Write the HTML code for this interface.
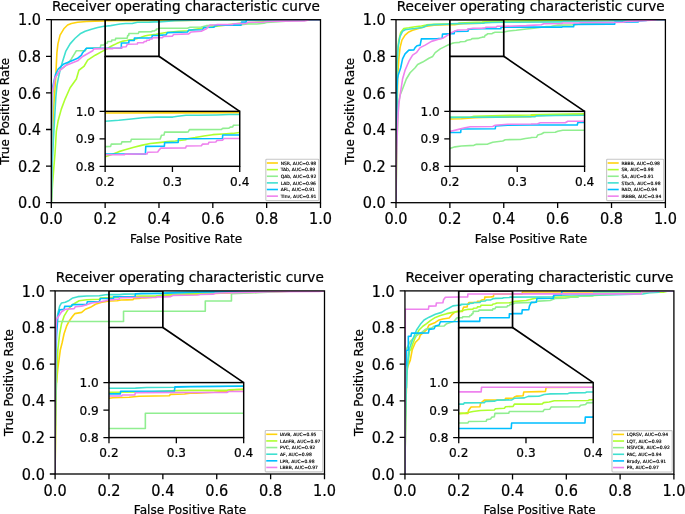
<!DOCTYPE html>
<html lang="en">
<head>
<meta charset="utf-8">
<title>Receiver operating characteristic curve</title>
<style>
html,body{margin:0;padding:0;background:#fff;}
body{width:685px;height:514px;overflow:hidden;}
svg{display:block;}
svg text{font-family:"DejaVu Sans", "Liberation Sans", sans-serif;fill:#000;stroke:#000;stroke-width:0.22px;}
svg text.lg{stroke-width:0.15px;}
</style>
</head>
<body>
<svg width="685" height="514" viewBox="0 0 685 514">
<rect width="685" height="514" fill="#fff"/>
<g id="pTL">
<clipPath id="cTL"><rect x="51.3" y="19.7" width="269.2" height="183"/></clipPath>
<clipPath id="dTL"><rect x="105.14" y="111.35" width="134.6" height="54.95"/></clipPath>
<g clip-path="url(#cTL)" fill="none" stroke-width="1.6" stroke-linejoin="round" stroke-linecap="square">
<polyline stroke="#FFD30D" points="51.3,202.7 52.11,156.95 53.45,111.2 55.67,79.03 56.3,65.22 56.92,52.66 57.93,43.88 60.06,35.09 63.83,28.81 67.59,25.04 71.36,23.54 77.63,22.28 86.42,21.53 95.2,21.15 103.99,20.9 105.14,20.76 132.06,20.71 158.98,20.61 185.9,20.43 212.82,20.07 239.74,19.7 320.5,19.7"/>
<polyline stroke="#ADFF2F" points="51.3,202.7 51.53,200.75 52.53,184.43 53.79,168.11 55.04,153.04 55.67,143 56.3,131.73 58.18,120.43 61.32,109.13 65.08,99.09 70.1,87.79 76.38,79 78.89,70.24 83.91,66.47 87.67,60.2 95.2,55.18 102.73,51.16 105.19,49.88 108.1,48.21 110.61,46.54 113.12,45.28 116.63,43.61 119.64,42.35 123.16,41.09 126.67,40.51 130.18,39.84 133.2,39.42 137.46,38.58 137.46,38.58 137.46,38.58 137.46,38.17 141.12,37.16 144.64,36.07 148.15,35.24 152.17,34.82 156.18,34.4 158.79,33.81 166.11,32.58 178.66,31.32 188.7,30.69 193.72,29.44 206.27,27.55 216.94,26.3 216.94,26.3 216.94,26.1 239.74,23.36 266.66,21.53 293.58,20.25 320.5,19.7"/>
<polyline stroke="#90EE90" points="51.3,202.7 51.84,129.5 52.92,92.9 55.04,77.77 60.06,70.24 66.34,65.22 71.36,58.94 76.38,50.78 85.16,50.78 86.42,48.27 100.22,47.89 100.85,45.13 103.99,44.88 105.19,43.19 107.34,43.02 107.59,41.51 111.61,41.35 111.86,40.01 115.38,39.84 115.63,38.33 127.17,38.17 127.67,35.65 128.68,35.49 128.93,33.56 137.46,33.56 137.46,33.56 138.36,33.39 138.86,31.89 151.67,31.72 152.17,31.05 154.68,30.88 155.18,30.21 156.18,30.05 156.44,28.96 158.79,28.79 159.21,28.18 187.45,28.18 189.96,27.3 201.25,26.93 206.27,25.67 216.94,25.29 218.62,25.29 228.9,25.29 237.3,25.08 247.58,23.96 256.92,23.96 263.92,23.21 266.66,22.44 293.58,20.61 320.5,19.7"/>
<polyline stroke="#40E0D0" points="51.3,202.7 52.11,166.1 53.45,138.65 54.8,114.86 55.88,96.56 56.95,85.58 58.18,79.03 60.06,70.24 62.57,61.45 65.71,51.41 70.1,43.88 75.12,38.23 80.14,33.83 85.16,31.32 91.44,29.19 97.71,27.55 103.99,26.3 105.19,26.3 110.61,25.61 115.63,24.77 120.14,23.94 125.67,23.52 132.19,23.52 134.2,22.93 137.46,22.26 137.46,22.26 137.46,22.26 137.46,22.26 142.13,22.26 149.66,22.1 154.68,21.84 158.79,21.84 174.9,20.65 193.72,20.27 216.94,20.02 239.74,20.02 266.66,19.7 320.5,19.7"/>
<polyline stroke="#00BFFF" points="51.3,202.7 51.57,111.2 52.11,89.24 55.67,74.01 58.18,68.99 63.83,63.96 70.1,61.45 77.63,58.31 81.4,55.18 82.65,52.66 86.42,48.27 103.99,48.27 105.19,48.21 121.25,48.21 121.4,43.02 128.83,42.85 128.93,40.51 134.35,40.34 134.45,38 137.46,38 137.46,38 137.46,38 137.46,38 137.46,38 152.07,37.83 152.17,35.49 158.79,35.4 166.11,34.84 167.37,32.58 187.45,31.95 188.7,30.07 202.51,29.81 203.76,27.55 213.8,27.3 215.06,25.67 216.94,25.67 216.94,25.67 216.94,25.67 216.94,25.08 241.04,25.08 241.51,22.09 246.18,22.09 246.18,21.53 246.18,21.53 246.18,19.7 320.5,19.7"/>
<polyline stroke="#EE82EE" points="51.3,202.7 51.57,111.2 52.11,92.9 55.04,77.77 60.06,70.24 66.34,65.22 77.63,60.82 82.65,56.43 92.69,50.78 93.95,48.9 103.99,48.65 105.19,48.65 112.87,48.65 113.12,48.21 121.9,48.04 122.15,46.95 126.17,46.79 126.67,45.53 127.42,44.19 137.21,44.02 137.21,44.02 137.36,44.02 137.61,42.77 143.63,42.6 144.14,41.51 146.39,41.35 146.65,40.26 149.41,40.09 149.91,39 152.17,38.83 152.67,37.75 158.79,37.75 162.35,37.6 163.6,36.34 172.39,36.09 173.64,34.46 188.7,33.83 191.21,31.95 201.25,31.32 206.27,28.81 210.04,25.04 216.94,24.79 216.94,24.79 216.94,24.61 232.63,24.43 233.57,23.68 246.64,23.4 247.58,22.28 263.92,22.09 266.66,21.53 280.12,21.16 304.35,20.98 309.73,19.7 320.5,19.7"/>
</g>
<rect x="51.3" y="19.7" width="269.2" height="183" fill="none" stroke="#000" stroke-width="1.3"/>
<path d="M51.3,202.7v5.3M51.3,202.7h-5.3M105.14,202.7v5.3M51.3,166.1h-5.3M158.98,202.7v5.3M51.3,129.5h-5.3M212.82,202.7v5.3M51.3,92.9h-5.3M266.66,202.7v5.3M51.3,56.3h-5.3M320.5,202.7v5.3M51.3,19.7h-5.3" stroke="#000" stroke-width="1.3" fill="none"/>
<text transform="translate(51.3,224.2) scale(1.0,1.06)" font-size="14.5" text-anchor="middle">0.0</text>
<text transform="translate(105.14,224.2) scale(1.0,1.06)" font-size="14.5" text-anchor="middle">0.2</text>
<text transform="translate(158.98,224.2) scale(1.0,1.06)" font-size="14.5" text-anchor="middle">0.4</text>
<text transform="translate(212.82,224.2) scale(1.0,1.06)" font-size="14.5" text-anchor="middle">0.6</text>
<text transform="translate(266.66,224.2) scale(1.0,1.06)" font-size="14.5" text-anchor="middle">0.8</text>
<text transform="translate(320.5,224.2) scale(1.0,1.06)" font-size="14.5" text-anchor="middle">1.0</text>
<text transform="translate(41.1,208.3) scale(1.0,1.05)" font-size="14.5" text-anchor="end">0.0</text>
<text transform="translate(41.1,171.7) scale(1.0,1.05)" font-size="14.5" text-anchor="end">0.2</text>
<text transform="translate(41.1,135.1) scale(1.0,1.05)" font-size="14.5" text-anchor="end">0.4</text>
<text transform="translate(41.1,98.5) scale(1.0,1.05)" font-size="14.5" text-anchor="end">0.6</text>
<text transform="translate(41.1,61.9) scale(1.0,1.05)" font-size="14.5" text-anchor="end">0.8</text>
<text transform="translate(41.1,25.3) scale(1.0,1.05)" font-size="14.5" text-anchor="end">1.0</text>
<text x="185.9" y="10.5" font-size="13.6" text-anchor="middle">Receiver operating characteristic curve</text>
<text x="186.1" y="242.5" font-size="12.1" text-anchor="middle">False Positive Rate</text>
<text transform="translate(8.8,111.2) rotate(-90)" font-size="12.0" text-anchor="middle">True Positive Rate</text>
<path clip-path="url(#cTL)" d="M105.14,19.7H158.98V56.3H105.14Z" fill="none" stroke="#000" stroke-width="1.7"/>
<path d="M105.14,56.3L105.14,111.35M158.98,56.3L239.74,111.35" fill="none" stroke="#000" stroke-width="1.7"/>
<rect x="105.14" y="111.35" width="134.6" height="54.95" fill="#fff"/>
<g clip-path="url(#dTL)" fill="none" stroke-width="1.6" stroke-linejoin="round" stroke-linecap="square">
<polyline stroke="#FFD30D" points="-29.46,386.1 -27.44,317.41 -24.08,248.72 -18.54,200.42 -16.97,179.69 -15.4,160.84 -12.89,147.65 -7.55,134.45 1.86,125.03 11.27,119.37 20.68,117.11 36.37,115.23 58.33,114.1 80.3,113.53 102.26,113.15 105.14,112.94 172.44,112.86 239.74,112.72 307.04,112.45 374.34,111.9 441.64,111.35 643.54,111.35"/>
<polyline stroke="#ADFF2F" points="-29.46,386.1 -28.89,383.18 -26.38,358.67 -23.24,334.17 -20.1,311.55 -18.54,296.47 -16.97,279.55 -12.26,262.58 -4.42,245.62 5,230.54 17.55,213.58 33.23,200.38 39.51,187.23 52.06,181.58 61.47,172.15 80.3,164.61 99.12,158.58 105.25,156.67 112.53,154.15 118.81,151.64 125.08,149.75 133.87,147.24 141.4,145.36 150.18,143.47 158.97,142.59 167.75,141.59 175.28,140.96 185.95,139.7 185.95,139.7 185.95,139.7 185.95,139.07 195.1,137.57 203.88,135.93 212.67,134.67 222.71,134.05 232.75,133.42 239.28,132.54 257.57,130.68 288.94,128.8 314.04,127.86 326.59,125.97 357.97,123.14 384.64,121.26 384.64,121.26 384.64,120.97 441.64,116.85 508.94,114.1 576.24,112.17 643.54,111.35"/>
<polyline stroke="#90EE90" points="-29.46,386.1 -28.11,276.2 -25.42,221.25 -20.1,198.54 -7.55,187.23 8.13,179.69 20.68,170.27 33.23,158.01 55.2,158.01 58.33,154.24 92.85,153.68 94.42,149.53 102.26,149.15 105.25,146.61 110.65,146.36 111.28,144.1 121.32,143.85 121.94,141.84 130.73,141.59 131.36,139.32 160.22,139.07 161.48,135.3 163.99,135.05 164.61,132.16 185.95,132.16 185.95,132.16 188.2,131.91 189.45,129.65 221.46,129.4 222.71,128.39 228.99,128.14 230.24,127.14 232.75,126.88 233.38,125.25 239.28,125 240.31,124.09 310.9,124.09 317.18,122.77 345.42,122.2 357.97,120.32 384.64,119.75 388.85,119.75 414.53,119.75 435.55,119.43 461.23,117.74 484.58,117.74 502.09,116.62 508.94,115.47 576.24,112.72 643.54,111.35"/>
<polyline stroke="#40E0D0" points="-29.46,386.1 -27.44,331.15 -24.08,289.94 -20.71,254.22 -18.02,226.75 -15.33,210.26 -12.26,200.42 -7.55,187.23 -1.28,174.04 6.56,158.96 17.55,147.65 30.1,139.16 42.65,132.57 55.2,128.8 70.88,125.59 86.57,123.14 102.26,121.26 105.25,121.26 118.81,120.22 131.36,118.97 142.65,117.71 156.46,117.08 172.77,117.08 177.79,116.2 185.95,115.2 185.95,115.2 185.95,115.2 185.95,115.2 197.61,115.2 216.44,114.95 228.99,114.57 239.28,114.57 279.53,112.78 326.59,112.21 384.64,111.83 441.64,111.83 508.94,111.35 643.54,111.35"/>
<polyline stroke="#00BFFF" points="-29.46,386.1 -28.79,248.72 -27.44,215.75 -18.54,192.89 -12.26,185.35 1.86,177.81 17.55,174.04 36.37,169.32 45.78,164.61 48.92,160.84 58.33,154.24 102.26,154.24 105.25,154.15 145.41,154.15 145.79,146.36 164.36,146.11 164.61,142.59 178.17,142.34 178.42,138.82 185.95,138.82 185.95,138.82 185.95,138.82 185.95,138.82 185.95,138.82 222.46,138.57 222.71,135.05 239.28,134.93 257.57,134.08 260.7,130.68 310.9,129.74 314.04,126.91 348.55,126.54 351.69,123.14 376.79,122.77 379.93,120.32 384.64,120.32 384.64,120.32 384.64,120.32 384.64,119.43 444.89,119.43 446.05,114.94 457.73,114.94 457.73,114.1 457.73,114.1 457.73,111.35 643.54,111.35"/>
<polyline stroke="#EE82EE" points="-29.46,386.1 -28.79,248.72 -27.44,221.25 -20.1,198.54 -7.55,187.23 8.13,179.69 36.37,173.09 48.92,166.5 74.02,158.01 77.16,155.19 102.26,154.81 105.25,154.81 124.45,154.81 125.08,154.15 147.04,153.9 147.67,152.27 157.71,152.02 158.97,150.13 160.85,148.12 185.32,147.87 185.32,147.87 185.69,147.87 186.31,145.98 201.37,145.73 202.63,144.1 208.28,143.85 208.9,142.21 215.81,141.96 217.06,140.33 222.71,140.08 223.97,138.44 239.28,138.44 248.15,138.22 251.29,136.34 273.25,135.96 276.39,133.51 314.04,132.57 320.32,129.74 345.42,128.8 357.97,125.03 367.38,119.37 384.64,119 384.64,119 384.64,118.73 423.87,118.45 426.21,117.32 458.9,116.9 461.23,115.22 502.09,114.94 508.94,114.1 542.59,113.55 603.16,113.27 616.62,111.35 643.54,111.35"/>
</g>
<rect x="105.14" y="111.35" width="134.6" height="54.95" fill="none" stroke="#000" stroke-width="1.45"/>
<path d="M105.14,166.3v5.6M172.44,166.3v5.6M239.74,166.3v5.6M105.14,166.3h-5.6M105.14,138.82h-5.6M105.14,111.35h-5.6" stroke="#000" stroke-width="1.3" fill="none"/>
<text x="105.14" y="186.1" font-size="12.1" text-anchor="middle">0.2</text>
<text x="172.44" y="186.1" font-size="12.1" text-anchor="middle">0.3</text>
<text x="239.74" y="186.1" font-size="12.1" text-anchor="middle">0.4</text>
<text x="94.94" y="170.8" font-size="12.1" text-anchor="end">0.8</text>
<text x="94.94" y="143.32" font-size="12.1" text-anchor="end">0.9</text>
<text x="94.94" y="115.85" font-size="12.1" text-anchor="end">1.0</text>
<rect x="265.84" y="159.2" width="52.96" height="41.4" rx="0.9" fill="#fff" fill-opacity="0.8" stroke="#c6c6c6" stroke-width="1.1"/>
<path d="M267.64,163h9.5" stroke="#FFD30D" stroke-width="1.6" stroke-linecap="square" fill="none"/>
<text class="lg" x="280.64" y="164.75" font-size="4.5">NSR, AUC=0.98</text>
<path d="M267.64,169.63h9.5" stroke="#ADFF2F" stroke-width="1.6" stroke-linecap="square" fill="none"/>
<text class="lg" x="280.64" y="171.38" font-size="4.5">TAb, AUC=0.89</text>
<path d="M267.64,176.26h9.5" stroke="#90EE90" stroke-width="1.6" stroke-linecap="square" fill="none"/>
<text class="lg" x="280.64" y="178.01" font-size="4.5">QAb, AUC=0.92</text>
<path d="M267.64,182.89h9.5" stroke="#40E0D0" stroke-width="1.6" stroke-linecap="square" fill="none"/>
<text class="lg" x="280.64" y="184.64" font-size="4.5">LAD, AUC=0.96</text>
<path d="M267.64,189.52h9.5" stroke="#00BFFF" stroke-width="1.6" stroke-linecap="square" fill="none"/>
<text class="lg" x="280.64" y="191.27" font-size="4.5">AFL, AUC=0.91</text>
<path d="M267.64,196.15h9.5" stroke="#EE82EE" stroke-width="1.6" stroke-linecap="square" fill="none"/>
<text class="lg" x="280.64" y="197.9" font-size="4.5">TInv, AUC=0.91</text>
</g>
<g id="pTR">
<clipPath id="cTR"><rect x="396" y="19.7" width="269.4" height="183"/></clipPath>
<clipPath id="dTR"><rect x="449.88" y="111.35" width="134.7" height="54.95"/></clipPath>
<g clip-path="url(#cTR)" fill="none" stroke-width="1.6" stroke-linejoin="round" stroke-linecap="square">
<polyline stroke="#FFD30D" points="396,202.7 396.54,147.8 397.08,111.2 397.62,83.75 397.62,77.77 398.79,58.94 400.05,47.64 401.93,40.11 405.07,35.09 408.84,31.95 412.6,30.32 417.63,28.81 425.16,26.55 433.96,25.29 446.52,24.79 449.84,24.77 454.47,24.61 459.99,23.94 463.01,23.69 482.35,23.27 482.35,22.6 492.04,22.1 503.69,21.59 530.7,21.53 557.64,20.61 584.58,19.7 665.4,19.7"/>
<polyline stroke="#ADFF2F" points="396,202.7 396.27,129.5 396.54,74.6 397.53,52.66 398.79,40.11 400.67,32.58 403.81,28.56 408.84,27.81 415.12,26.68 421.4,25.92 426.42,24.92 433.96,24.42 442.75,24.16 449.03,24.04 449.84,23.69 457.98,23.6 459.49,22.93 470.54,22.43 482.35,22.1 482.35,21.93 492.04,21.59 503.69,21.26 530.7,20.8 557.64,20.25 584.58,19.7 665.4,19.7"/>
<polyline stroke="#90EE90" points="396,202.7 396.81,147.8 398.16,111.2 398.79,101.6 400.05,95.32 402.56,89.04 406.33,79 410.09,72.75 415.12,67.73 417.63,64.59 422.65,62.08 428.93,58.31 432.7,56.43 435.21,52.66 440.24,48.9 445.26,46.39 449.03,44.5 449.84,44.5 451.95,43.35 454.47,42.77 459.49,42.35 460.49,41.68 465.02,41.51 467.03,40.26 471.04,39.42 472.05,38.58 478.08,38.42 480.09,37.75 482.35,37.33 482.35,37.33 482.35,37.33 482.35,37.33 482.35,37.16 484.5,36.99 485.01,35.49 486.51,34.82 487.52,33.81 492.04,33.65 493.04,32.98 495.05,32.31 503.69,32.31 503.91,31.95 508.68,31.07 516.22,30.32 526.27,29.06 533.8,28.18 541.34,27.3 546.36,26.55 551.39,26.3 558.14,25.08 572.16,24.89 582.44,23.68 609.08,22.74 624.99,21.53 651.93,19.7 665.4,19.7"/>
<polyline stroke="#40E0D0" points="396,202.7 396.27,129.5 396.54,92.9 396.91,65.22 398.16,46.39 400.05,36.34 402.56,31.32 405.07,29.81 410.09,29.06 415.12,28.56 422.65,27.55 427.68,25.29 433.96,24.67 446.52,24.29 449.03,24.16 449.84,23.69 457.98,23.6 468.03,23.52 482.35,23.27 484,23.27 484.5,22.68 492.04,22.51 503.69,22.26 513.71,22.26 562.06,21.91 563.75,21.34 609.08,20.97 624.99,20.25 651.93,19.7 665.4,19.7"/>
<polyline stroke="#00BFFF" points="396,202.7 396.27,147.8 396.81,111.2 396.91,91.55 397.53,79 398.16,75.26 400.67,67.73 402.56,58.94 405.07,53.92 407.58,51.41 408.84,50.15 413.86,49.9 415.12,47.64 417,45.76 420.14,45.13 421.4,38.85 437.72,38.6 442.12,38.23 442.5,34.08 449.03,33.83 449.84,33.81 454.21,33.73 454.32,31.47 468.03,31.3 468.18,29.38 473.05,28.96 482.35,28.79 482.35,28.79 500.83,28.79 501.08,27.12 503.69,27.12 504.92,27.12 562.06,27.12 562.06,26.76 573.56,26.76 574.03,24.33 609.08,24.15 614.69,24.15 614.87,22.09 638.05,21.9 638.99,20.88 646.47,20.41 646.47,19.7 665.4,19.7"/>
<polyline stroke="#EE82EE" points="396,202.7 396.27,166.1 396.91,141.77 397.53,122.94 398.79,104.11 400.67,91.55 402.56,79 405.07,70.24 408.84,61.45 412.6,55.18 416.37,52.66 420.14,47.64 425.16,45.13 431.44,41.36 437.72,39.48 442.75,38.23 447.77,35.09 449.03,34.46 449.84,33.14 452.96,31.89 455.47,30.8 457.98,29.96 467.03,29.8 468.03,28.96 473.05,28.29 482.35,28.12 482.35,28.12 485.01,27.95 486.01,27.28 496.06,27.28 497.06,26.28 503.69,26.28 504.92,26.28 513.71,26.05 526.27,25.67 541.34,24.79 543.85,23.79 562.06,23.54 562.06,23.49 562.06,23.02 579.64,22.84 580.57,22.46 609.08,22.46 623.1,22.28 627.77,21.34 637.12,20.88 651.14,20.22 655.81,19.85 657.32,19.7 665.4,19.7"/>
</g>
<rect x="396" y="19.7" width="269.4" height="183" fill="none" stroke="#000" stroke-width="1.3"/>
<path d="M396,202.7v5.3M396,202.7h-5.3M449.88,202.7v5.3M396,166.1h-5.3M503.76,202.7v5.3M396,129.5h-5.3M557.64,202.7v5.3M396,92.9h-5.3M611.52,202.7v5.3M396,56.3h-5.3M665.4,202.7v5.3M396,19.7h-5.3" stroke="#000" stroke-width="1.3" fill="none"/>
<text transform="translate(396,224.2) scale(1.0,1.06)" font-size="14.5" text-anchor="middle">0.0</text>
<text transform="translate(449.88,224.2) scale(1.0,1.06)" font-size="14.5" text-anchor="middle">0.2</text>
<text transform="translate(503.76,224.2) scale(1.0,1.06)" font-size="14.5" text-anchor="middle">0.4</text>
<text transform="translate(557.64,224.2) scale(1.0,1.06)" font-size="14.5" text-anchor="middle">0.6</text>
<text transform="translate(611.52,224.2) scale(1.0,1.06)" font-size="14.5" text-anchor="middle">0.8</text>
<text transform="translate(665.4,224.2) scale(1.0,1.06)" font-size="14.5" text-anchor="middle">1.0</text>
<text transform="translate(385.8,208.3) scale(1.0,1.05)" font-size="14.5" text-anchor="end">0.0</text>
<text transform="translate(385.8,171.7) scale(1.0,1.05)" font-size="14.5" text-anchor="end">0.2</text>
<text transform="translate(385.8,135.1) scale(1.0,1.05)" font-size="14.5" text-anchor="end">0.4</text>
<text transform="translate(385.8,98.5) scale(1.0,1.05)" font-size="14.5" text-anchor="end">0.6</text>
<text transform="translate(385.8,61.9) scale(1.0,1.05)" font-size="14.5" text-anchor="end">0.8</text>
<text transform="translate(385.8,25.3) scale(1.0,1.05)" font-size="14.5" text-anchor="end">1.0</text>
<text x="530.7" y="10.5" font-size="13.6" text-anchor="middle">Receiver operating characteristic curve</text>
<text x="530.9" y="242.5" font-size="12.1" text-anchor="middle">False Positive Rate</text>
<text transform="translate(353.5,111.2) rotate(-90)" font-size="12.0" text-anchor="middle">True Positive Rate</text>
<path clip-path="url(#cTR)" d="M449.88,19.7H503.76V56.3H449.88Z" fill="none" stroke="#000" stroke-width="1.7"/>
<path d="M449.88,56.3L449.88,111.35M503.76,56.3L584.58,111.35" fill="none" stroke="#000" stroke-width="1.7"/>
<rect x="449.88" y="111.35" width="134.7" height="54.95" fill="#fff"/>
<g clip-path="url(#dTR)" fill="none" stroke-width="1.6" stroke-linejoin="round" stroke-linecap="square">
<polyline stroke="#FFD30D" points="315.18,386.1 316.53,303.67 317.87,248.72 319.22,207.51 319.22,198.54 322.15,170.27 325.29,153.3 330,141.99 337.85,134.45 347.27,129.74 356.69,127.29 369.25,125.03 388.09,121.63 410.07,119.75 441.47,119 449.79,118.97 461.35,118.72 475.16,117.71 482.7,117.33 531.05,116.71 531.05,115.7 555.28,114.95 584.42,114.19 651.93,114.1 719.28,112.72 786.63,111.35 988.68,111.35"/>
<polyline stroke="#ADFF2F" points="315.18,386.1 315.85,276.2 316.53,193.78 319.01,160.84 322.15,141.99 326.86,130.68 334.71,124.65 347.27,123.52 362.97,121.82 378.67,120.69 391.23,119.18 410.07,118.43 432.05,118.05 447.75,117.87 449.79,117.33 470.14,117.21 473.9,116.2 501.54,115.45 531.05,114.95 531.05,114.69 555.28,114.19 584.42,113.69 651.93,113 719.28,112.17 786.63,111.35 988.68,111.35"/>
<polyline stroke="#90EE90" points="315.18,386.1 317.2,303.67 320.57,248.72 322.15,234.31 325.29,224.89 331.57,215.46 340.99,200.38 350.41,191 362.97,183.46 369.25,178.75 381.81,174.98 397.51,169.32 406.93,166.5 413.21,160.84 425.77,155.19 438.33,151.42 447.75,148.59 449.79,148.59 455.07,146.86 461.35,145.98 473.9,145.36 476.42,144.35 487.72,144.1 492.74,142.21 502.79,140.96 505.3,139.7 520.37,139.45 525.4,138.44 531.05,137.82 531.05,137.82 531.05,137.82 531.05,137.82 531.05,137.57 536.44,137.31 537.69,135.05 541.46,134.05 543.97,132.54 555.28,132.29 557.79,131.28 562.81,130.28 584.42,130.28 584.96,129.74 596.89,128.42 615.73,127.29 640.85,125.4 659.69,124.09 678.53,122.77 691.09,121.63 703.65,121.26 720.53,119.43 755.58,119.15 781.28,117.32 847.88,115.92 887.65,114.1 955,111.35 988.68,111.35"/>
<polyline stroke="#40E0D0" points="315.18,386.1 315.85,276.2 316.53,221.25 317.44,179.69 320.58,151.42 325.29,136.34 331.57,128.8 337.85,126.54 350.41,125.4 362.97,124.65 381.81,123.14 394.37,119.75 410.07,118.81 441.47,118.24 447.75,118.05 449.79,117.33 470.14,117.21 495.26,117.08 531.05,116.71 535.18,116.71 536.44,115.83 555.28,115.57 584.42,115.2 609.45,115.2 730.33,114.66 734.55,113.82 847.88,113.26 887.65,112.17 955,111.35 988.68,111.35"/>
<polyline stroke="#00BFFF" points="315.18,386.1 315.85,303.67 317.2,248.72 317.44,219.23 319.01,200.38 320.58,194.77 326.86,183.46 331.57,170.27 337.85,162.73 344.13,158.96 347.27,157.07 359.83,156.69 362.97,153.3 367.68,150.47 375.53,149.53 378.67,140.11 419.49,139.73 430.48,139.16 431.42,132.94 447.75,132.57 449.79,132.54 460.72,132.41 460.97,129.02 495.26,128.77 495.63,125.88 507.82,125.25 531.05,125 531.05,125 577.26,125 577.89,122.49 584.42,122.49 587.47,122.49 730.33,122.49 730.33,121.95 759.09,121.95 760.25,118.31 847.88,118.03 861.9,118.03 862.36,114.94 920.31,114.66 922.65,113.12 941.34,112.41 941.34,111.35 988.68,111.35"/>
<polyline stroke="#EE82EE" points="315.18,386.1 315.85,331.15 317.44,294.63 319.01,266.35 322.15,238.08 326.86,219.23 331.57,200.38 337.85,187.23 347.27,174.04 356.69,164.61 366.11,160.84 375.53,153.3 388.09,149.53 403.79,143.88 419.49,141.05 432.05,139.16 444.61,134.45 447.75,133.51 449.79,131.53 457.58,129.65 463.86,128.01 470.14,126.76 492.74,126.51 495.26,125.25 507.82,124.24 531.05,123.99 531.05,123.99 537.69,123.74 540.21,122.74 565.33,122.74 567.84,121.23 584.42,121.23 587.47,121.23 609.45,120.88 640.85,120.32 678.53,119 684.81,117.49 730.33,117.11 730.33,117.04 730.33,116.34 774.27,116.06 776.61,115.5 847.88,115.5 882.93,115.22 894.61,113.82 917.98,113.12 953.03,112.13 964.71,111.57 968.47,111.35 988.68,111.35"/>
</g>
<rect x="449.88" y="111.35" width="134.7" height="54.95" fill="none" stroke="#000" stroke-width="1.45"/>
<path d="M449.88,166.3v5.6M517.23,166.3v5.6M584.58,166.3v5.6M449.88,166.3h-5.6M449.88,138.82h-5.6M449.88,111.35h-5.6" stroke="#000" stroke-width="1.3" fill="none"/>
<text x="449.88" y="186.1" font-size="12.1" text-anchor="middle">0.2</text>
<text x="517.23" y="186.1" font-size="12.1" text-anchor="middle">0.3</text>
<text x="584.58" y="186.1" font-size="12.1" text-anchor="middle">0.4</text>
<text x="439.68" y="170.8" font-size="12.1" text-anchor="end">0.8</text>
<text x="439.68" y="143.32" font-size="12.1" text-anchor="end">0.9</text>
<text x="439.68" y="115.85" font-size="12.1" text-anchor="end">1.0</text>
<rect x="606.62" y="159.2" width="57.08" height="41.4" rx="0.9" fill="#fff" fill-opacity="0.8" stroke="#c6c6c6" stroke-width="1.1"/>
<path d="M608.42,163h9.5" stroke="#FFD30D" stroke-width="1.6" stroke-linecap="square" fill="none"/>
<text class="lg" x="621.42" y="164.75" font-size="4.5">RBBB, AUC=0.98</text>
<path d="M608.42,169.63h9.5" stroke="#ADFF2F" stroke-width="1.6" stroke-linecap="square" fill="none"/>
<text class="lg" x="621.42" y="171.38" font-size="4.5">SB, AUC=0.98</text>
<path d="M608.42,176.26h9.5" stroke="#90EE90" stroke-width="1.6" stroke-linecap="square" fill="none"/>
<text class="lg" x="621.42" y="178.01" font-size="4.5">SA, AUC=0.91</text>
<path d="M608.42,182.89h9.5" stroke="#40E0D0" stroke-width="1.6" stroke-linecap="square" fill="none"/>
<text class="lg" x="621.42" y="184.64" font-size="4.5">STach, AUC=0.98</text>
<path d="M608.42,189.52h9.5" stroke="#00BFFF" stroke-width="1.6" stroke-linecap="square" fill="none"/>
<text class="lg" x="621.42" y="191.27" font-size="4.5">RAD, AUC=0.94</text>
<path d="M608.42,196.15h9.5" stroke="#EE82EE" stroke-width="1.6" stroke-linecap="square" fill="none"/>
<text class="lg" x="621.42" y="197.9" font-size="4.5">IRBBB, AUC=0.94</text>
</g>
<g id="pBL">
<clipPath id="cBL"><rect x="55.1" y="290.9" width="269.4" height="183.1"/></clipPath>
<clipPath id="dBL"><rect x="108.98" y="382.6" width="134.7" height="54.98"/></clipPath>
<g clip-path="url(#cBL)" fill="none" stroke-width="1.6" stroke-linejoin="round" stroke-linecap="square">
<polyline stroke="#FFD30D" points="55.1,474 55.64,419.07 56.18,382.45 56.53,382.45 57.79,368.87 60.3,350.03 62.19,342.52 64.07,333.73 66.58,326.19 69.09,321.17 72.23,316.77 74.74,313.63 81.65,312.38 85.42,309.24 90.44,307.35 95.47,304.21 101.75,302.33 108.03,301.32 109,301.32 110.51,301.03 117.04,300.7 121.06,300.03 127.09,299.86 133.12,299.61 133.62,298.77 139.15,298.52 141.41,297.94 141.41,297.94 141.41,297.94 141.41,297.94 141.41,297.94 144.07,297.94 151.1,297.35 157.13,296.51 159.14,295.68 162.75,295.42 172.71,295.04 197.83,294.29 221.06,293.28 243.68,292.73 270.62,291.82 297.56,290.9 324.5,290.9"/>
<polyline stroke="#ADFF2F" points="55.1,474 55.64,419.07 56.18,391.61 57.79,350.06 59.67,333.73 61.56,323.68 64.07,316.15 67.84,309.86 71.6,305.47 75.37,302.96 79.14,300.82 86.68,299.82 99.24,299.19 100.49,297.93 108.03,297.55 109,297.35 124.08,297.18 135.88,296.26 141.41,296.09 141.41,296.09 146.08,296.09 156.12,296.09 157.13,295.68 162.75,295.42 172.71,294.29 197.83,293.53 221.06,292.91 243.68,291.82 270.62,290.9 324.5,290.9"/>
<polyline stroke="#90EE90" points="55.1,474 55.37,382.45 55.91,331.18 57.26,321.48 123.53,321.48 123.53,311.32 205.29,311.32 205.29,301.06 231.45,301.06 231.45,293.65 257.15,292.73 284.09,291.45 297.56,290.9 324.5,290.9"/>
<polyline stroke="#40E0D0" points="55.1,474 55.37,382.45 55.64,336.67 56.53,323.68 57.79,313.63 59.67,306.1 61.56,302.96 65.32,302.33 69.09,300.44 72.86,297.93 77.88,296.67 86.68,296.05 99.24,295.8 105.52,294.79 108.03,294.66 109,294.66 119.55,294.59 124.08,294.17 135.13,294 141.41,293.67 141.41,293.67 151.1,293.5 162.75,293.16 172.71,292.53 197.83,292.03 221.06,291.65 243.68,290.9 324.5,290.9"/>
<polyline stroke="#00BFFF" points="55.1,474 55.37,400.76 55.64,364.14 56.53,336.24 57.79,317.4 59.67,309.86 64.07,309.24 64.7,306.35 71.6,306.1 72.23,304.59 86.68,304.34 87.3,301.7 99.24,301.45 100.49,298.56 108.03,298.43 109,298.43 113.53,298.43 113.63,296.68 135.13,296.51 135.38,293.75 141.41,293.5 141.41,293.5 162.75,293.33 172.71,292.91 197.83,292.28 221.06,291.78 243.68,290.9 324.5,290.9"/>
<polyline stroke="#EE82EE" points="55.1,474 55.37,382.45 55.64,345.83 55.91,329.96 56.53,319.29 59.05,315.52 61.56,311.75 65.32,309.24 74.12,308.61 75.37,306.72 81.65,306.1 86.68,304.84 91.7,302.96 99.24,302.08 105.52,300.82 108.03,300.07 109,299.86 114.03,299.78 114.28,299.19 119.3,299.19 119.55,297.69 135.13,297.52 141.41,297.52 143.56,297.52 156.12,297.52 156.88,296.85 162.75,296.85 163.92,296.85 170.2,296.67 172.71,295.42 197.83,295.04 200.34,294.54 212.9,294.16 215.41,293.28 221.06,293.03 243.68,292.36 270.62,291.82 319.11,291.45 324.5,290.9"/>
</g>
<rect x="55.1" y="290.9" width="269.4" height="183.1" fill="none" stroke="#000" stroke-width="1.3"/>
<path d="M55.1,474v5.3M55.1,474h-5.3M108.98,474v5.3M55.1,437.38h-5.3M162.86,474v5.3M55.1,400.76h-5.3M216.74,474v5.3M55.1,364.14h-5.3M270.62,474v5.3M55.1,327.52h-5.3M324.5,474v5.3M55.1,290.9h-5.3" stroke="#000" stroke-width="1.3" fill="none"/>
<text transform="translate(55.1,495.5) scale(1.0,1.06)" font-size="14.5" text-anchor="middle">0.0</text>
<text transform="translate(108.98,495.5) scale(1.0,1.06)" font-size="14.5" text-anchor="middle">0.2</text>
<text transform="translate(162.86,495.5) scale(1.0,1.06)" font-size="14.5" text-anchor="middle">0.4</text>
<text transform="translate(216.74,495.5) scale(1.0,1.06)" font-size="14.5" text-anchor="middle">0.6</text>
<text transform="translate(270.62,495.5) scale(1.0,1.06)" font-size="14.5" text-anchor="middle">0.8</text>
<text transform="translate(324.5,495.5) scale(1.0,1.06)" font-size="14.5" text-anchor="middle">1.0</text>
<text transform="translate(44.9,479.6) scale(1.0,1.05)" font-size="14.5" text-anchor="end">0.0</text>
<text transform="translate(44.9,442.98) scale(1.0,1.05)" font-size="14.5" text-anchor="end">0.2</text>
<text transform="translate(44.9,406.36) scale(1.0,1.05)" font-size="14.5" text-anchor="end">0.4</text>
<text transform="translate(44.9,369.74) scale(1.0,1.05)" font-size="14.5" text-anchor="end">0.6</text>
<text transform="translate(44.9,333.12) scale(1.0,1.05)" font-size="14.5" text-anchor="end">0.8</text>
<text transform="translate(44.9,296.5) scale(1.0,1.05)" font-size="14.5" text-anchor="end">1.0</text>
<text x="189.8" y="281.7" font-size="13.6" text-anchor="middle">Receiver operating characteristic curve</text>
<text x="190" y="513.8" font-size="12.1" text-anchor="middle">False Positive Rate</text>
<text transform="translate(12.8,382.45) rotate(-90)" font-size="12.0" text-anchor="middle">True Positive Rate</text>
<path clip-path="url(#cBL)" d="M108.98,290.9H162.86V327.52H108.98Z" fill="none" stroke="#000" stroke-width="1.7"/>
<path d="M108.98,327.52L108.98,382.6M162.86,327.52L243.68,382.6" fill="none" stroke="#000" stroke-width="1.7"/>
<rect x="108.98" y="382.6" width="134.7" height="54.98" fill="#fff"/>
<g clip-path="url(#dBL)" fill="none" stroke-width="1.6" stroke-linejoin="round" stroke-linecap="square">
<polyline stroke="#FFD30D" points="-25.72,657.5 -24.37,575.03 -23.03,520.05 -22.14,520.05 -19,499.67 -12.72,471.38 -8.01,460.11 -3.3,446.91 2.98,435.59 9.26,428.05 17.11,421.45 23.39,416.73 40.66,414.84 50.08,410.13 62.64,407.3 75.2,402.59 90.9,399.76 106.6,398.25 109.04,398.25 112.81,397.82 129.14,397.31 139.18,396.31 154.26,396.06 169.33,395.68 170.58,394.42 184.4,394.04 190.05,393.16 190.05,393.16 190.05,393.16 190.05,393.16 190.05,393.16 196.69,393.16 214.28,392.28 229.35,391.03 234.37,389.77 243.42,389.39 268.3,388.82 331.1,387.69 389.18,386.18 445.73,385.35 513.08,383.97 580.43,382.6 647.78,382.6"/>
<polyline stroke="#ADFF2F" points="-25.72,657.5 -24.37,575.03 -23.03,533.8 -19,471.42 -14.29,446.91 -9.58,431.82 -3.3,420.5 6.12,411.07 15.54,404.47 24.96,400.7 34.38,397.49 53.22,395.98 84.62,395.04 87.76,393.16 106.6,392.59 109.04,392.28 146.72,392.03 176.23,390.65 190.05,390.4 190.05,390.4 201.72,390.4 226.84,390.4 229.35,389.77 243.42,389.39 268.3,387.69 331.1,386.56 389.18,385.61 445.73,383.97 513.08,382.6 647.78,382.6"/>
<polyline stroke="#90EE90" points="-25.72,657.5 -25.05,520.05 -23.7,443.08 -20.33,428.51 145.35,428.51 145.35,413.25 349.76,413.25 349.76,397.86 415.15,397.86 415.15,386.72 479.4,385.35 546.75,383.42 580.43,382.6 647.78,382.6"/>
<polyline stroke="#40E0D0" points="-25.72,657.5 -25.05,520.05 -24.37,451.32 -22.14,431.82 -19,416.73 -14.29,405.41 -9.58,400.7 -0.16,399.76 9.26,396.93 18.68,393.16 31.24,391.27 53.22,390.33 84.62,389.95 100.32,388.44 106.6,388.25 109.04,388.25 135.42,388.14 146.72,387.51 174.35,387.25 190.05,386.75 190.05,386.75 214.28,386.5 243.42,386 268.3,385.05 331.1,384.29 389.18,383.73 445.73,382.6 647.78,382.6"/>
<polyline stroke="#00BFFF" points="-25.72,657.5 -25.05,547.54 -24.37,492.56 -22.14,450.68 -19,422.39 -14.29,411.07 -3.3,410.13 -1.73,405.79 15.54,405.41 17.11,403.15 53.22,402.77 54.79,398.81 84.62,398.44 87.76,394.1 106.6,393.91 109.04,393.91 120.35,393.91 120.6,391.28 174.35,391.03 174.98,386.88 190.05,386.5 190.05,386.5 243.42,386.25 268.3,385.61 331.1,384.67 389.18,383.91 445.73,382.6 647.78,382.6"/>
<polyline stroke="#EE82EE" points="-25.72,657.5 -25.05,520.05 -24.37,465.07 -23.71,441.25 -22.14,425.22 -15.86,419.56 -9.58,413.9 -0.16,410.13 21.82,409.19 24.96,406.36 40.66,405.41 53.22,403.53 65.78,400.7 84.62,399.38 100.32,397.49 106.6,396.36 109.04,396.06 121.6,395.93 122.23,395.05 134.79,395.05 135.42,392.79 174.35,392.54 190.05,392.54 195.44,392.54 226.84,392.54 228.72,391.53 243.42,391.53 246.32,391.53 262.02,391.27 268.3,389.38 331.1,388.82 337.38,388.06 368.77,387.5 375.05,386.18 389.18,385.8 445.73,384.8 513.08,383.97 634.31,383.42 647.78,382.6"/>
</g>
<rect x="108.98" y="382.6" width="134.7" height="54.98" fill="none" stroke="#000" stroke-width="1.45"/>
<path d="M108.98,437.58v5.6M176.33,437.58v5.6M243.68,437.58v5.6M108.98,437.58h-5.6M108.98,410.09h-5.6M108.98,382.6h-5.6" stroke="#000" stroke-width="1.3" fill="none"/>
<text x="108.98" y="457.38" font-size="12.1" text-anchor="middle">0.2</text>
<text x="176.33" y="457.38" font-size="12.1" text-anchor="middle">0.3</text>
<text x="243.68" y="457.38" font-size="12.1" text-anchor="middle">0.4</text>
<text x="98.78" y="442.08" font-size="12.1" text-anchor="end">0.8</text>
<text x="98.78" y="414.59" font-size="12.1" text-anchor="end">0.9</text>
<text x="98.78" y="387.1" font-size="12.1" text-anchor="end">1.0</text>
<rect x="265.22" y="430.5" width="57.58" height="41.4" rx="0.9" fill="#fff" fill-opacity="0.8" stroke="#c6c6c6" stroke-width="1.1"/>
<path d="M267.02,434.3h9.5" stroke="#FFD30D" stroke-width="1.6" stroke-linecap="square" fill="none"/>
<text class="lg" x="280.02" y="436.05" font-size="4.5">IAVB, AUC=0.95</text>
<path d="M267.02,440.93h9.5" stroke="#ADFF2F" stroke-width="1.6" stroke-linecap="square" fill="none"/>
<text class="lg" x="280.02" y="442.68" font-size="4.5">LAnFB, AUC=0.97</text>
<path d="M267.02,447.56h9.5" stroke="#90EE90" stroke-width="1.6" stroke-linecap="square" fill="none"/>
<text class="lg" x="280.02" y="449.31" font-size="4.5">PVC, AUC=0.92</text>
<path d="M267.02,454.19h9.5" stroke="#40E0D0" stroke-width="1.6" stroke-linecap="square" fill="none"/>
<text class="lg" x="280.02" y="455.94" font-size="4.5">AF, AUC=0.98</text>
<path d="M267.02,460.82h9.5" stroke="#00BFFF" stroke-width="1.6" stroke-linecap="square" fill="none"/>
<text class="lg" x="280.02" y="462.57" font-size="4.5">LPR, AUC=0.98</text>
<path d="M267.02,467.45h9.5" stroke="#EE82EE" stroke-width="1.6" stroke-linecap="square" fill="none"/>
<text class="lg" x="280.02" y="469.2" font-size="4.5">LBBB, AUC=0.97</text>
</g>
<g id="pBR">
<clipPath id="cBR"><rect x="404.95" y="290.9" width="268.95" height="183.2"/></clipPath>
<clipPath id="dBR"><rect x="458.74" y="382.65" width="134.47" height="55.01"/></clipPath>
<g clip-path="url(#cBR)" fill="none" stroke-width="1.6" stroke-linejoin="round" stroke-linecap="square">
<polyline stroke="#FFD30D" points="404.95,474.1 405.49,419.14 406.29,391.66 406.53,375.2 407.78,366.4 410.29,360.12 412.17,350.06 415.31,342.55 419.07,338.78 420.32,335.01 426.59,329.98 429.1,324.96 435.37,322.44 439.13,319.93 442.89,318.92 449.16,318.04 451.67,314.9 455.43,311.76 457.94,311.38 458.68,311.38 462.44,311.35 462.69,309.25 463.69,307.16 467.2,306.99 467.45,304.64 468.96,302.55 477.23,302.38 477.48,301.29 480.49,301.29 480.99,300.45 482,299.87 484.51,299.62 484.76,297.1 490.77,296.85 490.77,296.85 490.77,296.85 490.77,296.85 493.43,296.68 493.68,294.17 512.39,294 513.73,293.91 521.88,293.91 522.51,292.03 560.13,292.03 570.78,292.03 593.21,292 594.56,290.9 673.9,290.9"/>
<polyline stroke="#ADFF2F" points="404.95,474.1 405.49,419.14 406.29,391.66 406.53,372.69 408.41,360.12 409.67,350.06 410.92,350.06 412.8,343.81 415.31,337.53 419.07,329.98 422.83,326.21 426.59,323.7 430.35,320.56 435.37,317.42 440.38,315.53 446.65,313.65 452.92,312.39 457.94,311.51 458.68,311.51 461.43,311.1 464.44,310.09 467.45,309.42 472.97,309.08 473.47,308.25 476.98,308 477.48,306.91 480.49,306.74 480.99,305.23 490.77,305.23 492.17,305.06 492.68,304.22 494.93,303.81 496.94,302.97 510.48,302.8 510.98,302.38 512.39,302.21 514.99,301.33 526.27,300.45 535.05,298.31 552.6,297.93 555.11,297.31 570.78,296.68 571.47,296.68 590.13,295.62 616.72,294.22 626.06,292.81 640.05,292.34 663.38,292.16 668.52,290.9 673.9,290.9"/>
<polyline stroke="#90EE90" points="404.95,474.1 405.49,419.14 406.03,382.5 406.53,348.84 410.29,341.3 415.31,336.27 421.58,332.5 425.34,329.36 431.61,328.1 434.12,326.21 444.15,325.96 446.65,323.7 454.18,321.19 456.68,318.04 457.94,317.79 458.68,317.79 462.44,317.79 462.69,316.79 469.71,316.63 469.96,315.54 471.47,315.12 471.97,313.86 472.97,313.61 473.22,311.35 478.74,311.18 478.99,310.09 490.77,310.09 492.42,310.09 492.93,308.83 495.18,308.58 495.68,307.16 506.97,306.99 507.47,305.9 509.48,305.48 509.98,304.39 512.39,304.22 514.99,302.96 535.05,302.33 538.81,301.08 550.1,300.45 555.11,298.56 565.14,298.31 570.78,297.31 570.78,297.31 570.78,297.31 578,297.31 578.47,296.09 592.93,295.9 593.86,292.34 616.72,292.16 647,291.82 660.45,290.9 673.9,290.9"/>
<polyline stroke="#40E0D0" points="404.95,474.1 405.49,419.14 406.03,388 406.53,387.77 407.16,368.92 408.41,356.35 409.04,350.06 411.55,342.55 414.05,336.27 416.56,329.98 420.32,324.33 424.08,319.93 429.1,317.16 435.37,314.27 441.64,312.39 445.4,309.87 449.16,307.99 452.92,305.85 457.94,305.22 458.68,305.22 460.68,305.22 460.93,304.39 468.96,304.22 469.46,303.39 472.97,303.22 473.97,302.55 479.99,302.38 480.99,301.29 485.01,301.04 486.51,300.04 490.77,299.87 490.77,299.87 490.77,299.87 491.42,299.62 492.93,298.78 495.43,298.36 502.46,298.19 503.46,297.69 509.48,297.52 509.98,297.1 512.39,297.1 535.05,297.05 552.6,296.68 555.11,295.42 570.78,295.04 571.47,295.04 599.46,295.04 616.72,294.68 642.85,294.03 649.38,292.81 658.71,292.16 660.45,290.9 673.9,290.9"/>
<polyline stroke="#00BFFF" points="404.95,474.1 405.22,419.14 405.35,367.84 406.4,364.18 406.4,350.44 408.31,350.07 408.31,336.33 410.92,336.27 411.55,333.13 428.47,332.88 429.1,329.36 434.12,328.73 435.37,325.96 439.13,324.96 440.38,321.81 457.94,321.56 458.68,321.4 479.74,321.4 479.89,317.8 490.77,317.8 509.23,317.8 509.38,313.86 512.39,313.86 512.39,313.86 512.39,313.65 521.88,313.65 522.26,309.87 528.78,309.62 529.41,306.1 531.29,302.33 536.3,302.08 536.93,298.56 553.23,298.31 553.86,295.04 561.38,294.79 562.01,290.9 570.78,290.9 620.11,290.9 647,290.9 673.9,290.9"/>
<polyline stroke="#EE82EE" points="404.95,474.1 405.08,382.5 405.28,309.25 428.47,309.25 428.85,306.1 436,305.85 436.37,302.96 442.89,302.71 443.52,299.82 445.4,297.31 457.94,297.05 458.68,297.05 467.7,297.05 467.85,294 490.77,294 512.39,294 513.73,293.91 570.78,293.91 616.72,293.91 641.17,293.91 641.73,291.6 654.05,291.41 660.45,290.9 673.9,290.9"/>
</g>
<rect x="404.95" y="290.9" width="268.95" height="183.2" fill="none" stroke="#000" stroke-width="1.3"/>
<path d="M404.95,474.1v5.3M404.95,474.1h-5.3M458.74,474.1v5.3M404.95,437.46h-5.3M512.53,474.1v5.3M404.95,400.82h-5.3M566.32,474.1v5.3M404.95,364.18h-5.3M620.11,474.1v5.3M404.95,327.54h-5.3M673.9,474.1v5.3M404.95,290.9h-5.3" stroke="#000" stroke-width="1.3" fill="none"/>
<text transform="translate(404.95,495.6) scale(1.0,1.06)" font-size="14.5" text-anchor="middle">0.0</text>
<text transform="translate(458.74,495.6) scale(1.0,1.06)" font-size="14.5" text-anchor="middle">0.2</text>
<text transform="translate(512.53,495.6) scale(1.0,1.06)" font-size="14.5" text-anchor="middle">0.4</text>
<text transform="translate(566.32,495.6) scale(1.0,1.06)" font-size="14.5" text-anchor="middle">0.6</text>
<text transform="translate(620.11,495.6) scale(1.0,1.06)" font-size="14.5" text-anchor="middle">0.8</text>
<text transform="translate(673.9,495.6) scale(1.0,1.06)" font-size="14.5" text-anchor="middle">1.0</text>
<text transform="translate(394.75,479.7) scale(1.0,1.05)" font-size="14.5" text-anchor="end">0.0</text>
<text transform="translate(394.75,443.06) scale(1.0,1.05)" font-size="14.5" text-anchor="end">0.2</text>
<text transform="translate(394.75,406.42) scale(1.0,1.05)" font-size="14.5" text-anchor="end">0.4</text>
<text transform="translate(394.75,369.78) scale(1.0,1.05)" font-size="14.5" text-anchor="end">0.6</text>
<text transform="translate(394.75,333.14) scale(1.0,1.05)" font-size="14.5" text-anchor="end">0.8</text>
<text transform="translate(394.75,296.5) scale(1.0,1.05)" font-size="14.5" text-anchor="end">1.0</text>
<text x="539.42" y="281.7" font-size="13.6" text-anchor="middle">Receiver operating characteristic curve</text>
<text x="539.62" y="513.9" font-size="12.1" text-anchor="middle">False Positive Rate</text>
<text transform="translate(363.05,382.5) rotate(-90)" font-size="12.0" text-anchor="middle">True Positive Rate</text>
<path clip-path="url(#cBR)" d="M458.74,290.9H512.53V327.54H458.74Z" fill="none" stroke="#000" stroke-width="1.7"/>
<path d="M458.74,327.54L458.74,382.65M512.53,327.54L593.21,382.65" fill="none" stroke="#000" stroke-width="1.7"/>
<rect x="458.74" y="382.65" width="134.47" height="55.01" fill="#fff"/>
<g clip-path="url(#dBR)" fill="none" stroke-width="1.6" stroke-linejoin="round" stroke-linecap="square">
<polyline stroke="#FFD30D" points="324.27,657.7 325.61,575.19 327.63,533.93 328.22,509.22 331.35,496.01 337.62,486.57 342.32,471.48 350.16,460.2 359.56,454.54 362.7,448.88 378.37,441.33 384.64,433.78 400.31,430.01 409.72,426.23 419.12,424.72 434.79,423.4 441.06,418.69 450.47,413.97 456.74,413.4 458.58,413.4 467.98,413.35 468.61,410.2 471.12,407.06 479.9,406.81 480.52,403.28 484.28,400.14 504.97,399.89 505.6,398.25 513.12,398.25 514.38,396.99 516.88,396.11 523.15,395.74 523.78,391.96 538.83,391.58 538.83,391.58 538.83,391.58 538.83,391.58 545.46,391.33 546.09,387.56 592.85,387.31 596.23,387.17 616.6,387.17 618.17,384.34 712.21,384.34 738.85,384.34 794.93,384.3 798.29,382.65 996.64,382.65"/>
<polyline stroke="#ADFF2F" points="324.27,657.7 325.61,575.19 327.63,533.93 328.22,505.44 332.92,486.57 336.05,471.48 339.19,471.48 343.89,462.09 350.16,452.65 359.56,441.33 368.97,435.67 378.37,431.89 387.77,427.18 400.31,422.46 412.85,419.63 428.52,416.8 444.2,414.91 456.74,413.59 458.58,413.59 465.48,412.97 473,411.46 480.52,410.45 494.31,409.95 495.57,408.69 504.35,408.32 505.6,406.68 513.12,406.43 514.38,404.16 538.83,404.16 542.32,403.91 543.58,402.65 549.22,402.03 554.24,400.77 588.09,400.52 589.34,399.89 592.85,399.64 599.36,398.31 627.57,396.99 649.51,393.78 693.4,393.21 699.67,392.27 738.85,391.32 740.56,391.32 787.22,389.73 853.7,387.63 877.03,385.52 912.02,384.82 970.34,384.54 983.19,382.65 996.64,382.65"/>
<polyline stroke="#90EE90" points="324.27,657.7 325.61,575.19 326.95,520.18 328.22,469.63 337.62,458.31 350.16,450.76 365.83,445.1 375.24,440.39 390.91,438.5 397.18,435.67 422.26,435.29 428.52,431.89 447.33,428.12 453.6,423.4 456.74,423.03 458.58,423.03 467.98,423.03 468.61,421.52 486.16,421.27 486.79,419.64 490.55,419.01 491.81,417.12 494.31,416.74 494.94,413.35 508.73,413.1 509.36,411.46 538.83,411.46 542.95,411.46 544.21,409.57 549.85,409.2 551.1,407.06 579.31,406.81 580.57,405.17 585.58,404.54 586.84,402.91 592.85,402.65 599.36,400.76 649.51,399.82 658.92,397.93 687.13,396.99 699.67,394.16 724.74,393.78 738.85,392.27 738.85,392.27 738.85,392.27 756.89,392.27 758.06,390.44 794.22,390.16 796.55,384.82 853.7,384.54 929.4,384.03 963.02,382.65 996.64,382.65"/>
<polyline stroke="#40E0D0" points="324.27,657.7 325.61,575.19 326.95,528.43 328.22,528.09 329.78,499.78 332.92,480.91 334.49,471.48 340.76,460.2 347.02,450.76 353.29,441.33 362.7,432.84 372.1,426.23 384.64,422.08 400.31,417.74 415.99,414.91 425.39,411.14 434.79,408.31 444.2,405.1 456.74,404.16 458.58,404.16 463.6,404.16 464.22,402.91 484.28,402.65 485.54,401.4 494.31,401.15 496.82,400.14 511.87,399.89 514.38,398.25 524.41,397.87 528.17,396.37 538.83,396.11 538.83,396.11 538.83,396.11 540.44,395.74 544.21,394.48 550.47,393.85 568.03,393.6 570.54,392.84 585.58,392.59 586.84,391.96 592.85,391.96 649.51,391.89 693.4,391.32 699.67,389.44 738.85,388.87 740.56,388.87 810.55,388.87 853.7,388.33 919.02,387.35 935.35,385.52 958.67,384.54 963.02,382.65 996.64,382.65"/>
<polyline stroke="#00BFFF" points="324.27,657.7 324.94,575.19 325.27,498.17 327.9,492.67 327.9,472.04 332.67,471.49 332.67,450.86 339.19,450.76 340.76,446.05 383.07,445.67 384.64,440.39 397.18,439.44 400.31,435.29 409.72,433.78 412.85,429.06 456.74,428.69 458.58,428.44 511.24,428.44 511.62,423.03 538.83,423.03 584.96,423.03 585.33,417.12 592.85,417.12 592.85,417.12 592.85,416.8 616.6,416.8 617.54,411.14 633.84,410.76 635.41,405.48 640.11,399.82 652.65,399.44 654.22,394.16 694.97,393.78 696.53,388.87 715.34,388.49 716.91,382.65 738.85,382.65 862.16,382.65 929.4,382.65 996.64,382.65"/>
<polyline stroke="#EE82EE" points="324.27,657.7 324.6,520.18 325.08,410.19 383.07,410.19 384.01,405.48 401.88,405.1 402.82,400.76 419.12,400.38 420.69,396.04 425.39,392.27 456.74,391.89 458.58,391.89 481.15,391.89 481.53,387.31 538.83,387.31 592.85,387.31 596.23,387.17 738.85,387.17 853.7,387.17 914.82,387.17 916.22,383.7 947.01,383.41 963.02,382.65 996.64,382.65"/>
</g>
<rect x="458.74" y="382.65" width="134.47" height="55.01" fill="none" stroke="#000" stroke-width="1.45"/>
<path d="M458.74,437.66v5.6M525.98,437.66v5.6M593.21,437.66v5.6M458.74,437.66h-5.6M458.74,410.16h-5.6M458.74,382.65h-5.6" stroke="#000" stroke-width="1.3" fill="none"/>
<text x="458.74" y="457.46" font-size="12.1" text-anchor="middle">0.2</text>
<text x="525.98" y="457.46" font-size="12.1" text-anchor="middle">0.3</text>
<text x="593.21" y="457.46" font-size="12.1" text-anchor="middle">0.4</text>
<text x="448.54" y="442.16" font-size="12.1" text-anchor="end">0.8</text>
<text x="448.54" y="414.66" font-size="12.1" text-anchor="end">0.9</text>
<text x="448.54" y="387.15" font-size="12.1" text-anchor="end">1.0</text>
<rect x="611.98" y="430.6" width="60.22" height="41.4" rx="0.9" fill="#fff" fill-opacity="0.8" stroke="#c6c6c6" stroke-width="1.1"/>
<path d="M613.78,434.4h9.5" stroke="#FFD30D" stroke-width="1.6" stroke-linecap="square" fill="none"/>
<text class="lg" x="626.78" y="436.15" font-size="4.5">LQRSV, AUC=0.94</text>
<path d="M613.78,441.03h9.5" stroke="#ADFF2F" stroke-width="1.6" stroke-linecap="square" fill="none"/>
<text class="lg" x="626.78" y="442.78" font-size="4.5">LQT, AUC=0.93</text>
<path d="M613.78,447.66h9.5" stroke="#90EE90" stroke-width="1.6" stroke-linecap="square" fill="none"/>
<text class="lg" x="626.78" y="449.41" font-size="4.5">NSIVCB, AUC=0.92</text>
<path d="M613.78,454.29h9.5" stroke="#40E0D0" stroke-width="1.6" stroke-linecap="square" fill="none"/>
<text class="lg" x="626.78" y="456.04" font-size="4.5">PAC, AUC=0.94</text>
<path d="M613.78,460.92h9.5" stroke="#00BFFF" stroke-width="1.6" stroke-linecap="square" fill="none"/>
<text class="lg" x="626.78" y="462.67" font-size="4.5">Brady, AUC=0.91</text>
<path d="M613.78,467.55h9.5" stroke="#EE82EE" stroke-width="1.6" stroke-linecap="square" fill="none"/>
<text class="lg" x="626.78" y="469.3" font-size="4.5">PR, AUC=0.97</text>
</g>
</svg>
</body>
</html>
